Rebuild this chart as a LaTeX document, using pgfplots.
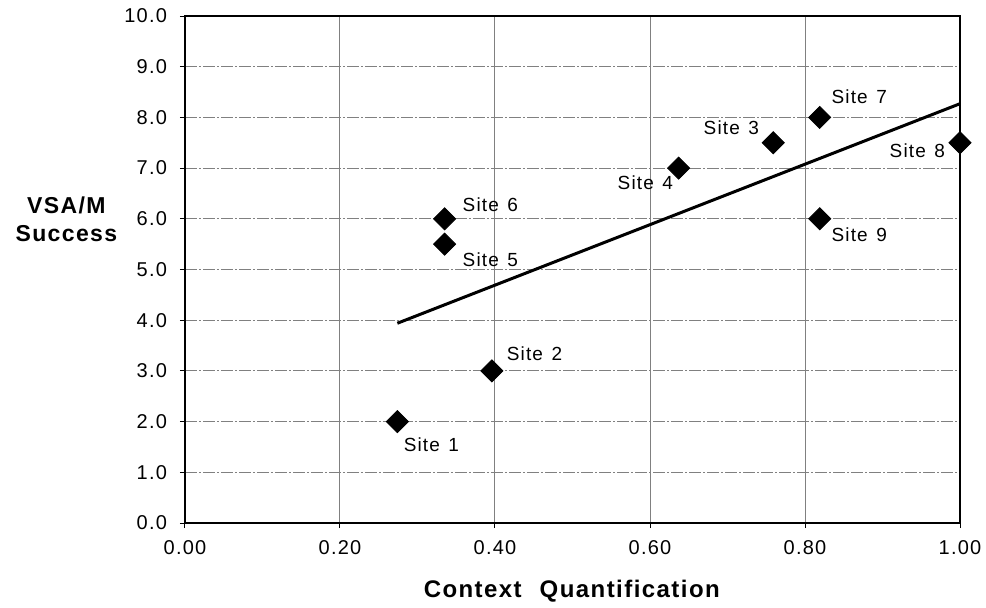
\documentclass[border=0pt]{standalone}
\usepackage{fontspec}
\setmainfont{Liberation Sans}[LetterSpace=6]
\usepackage{pgfplots}
\pgfplotsset{compat=1.18}

\pgfplotstableread{
x     y
0.274 2.0
0.396 3.0
0.759 7.5
0.637 7.0
0.335 5.5
0.335 6.0
0.819 8.0
1.000 7.5
0.819 6.0
}\sites

\newcommand{\site}[1]{Site\hspace{0.45em}#1}

\begin{document}
\begin{tikzpicture}[x=1pt,y=1pt]
% 1px = 0.5pt; picture is 986x607 px
\path[use as bounding box] (-92.5,-42) rectangle (400.5,261.5);
\begin{axis}[
    at={(0,0)}, anchor=south west,
    scale only axis,
    width=387.5pt, height=253.5pt,
    xmin=0, xmax=1, ymin=0, ymax=10,
    xtick={0,0.2,...,1.0},
    ytick={0,1,...,10},
    xticklabel={\pgfmathprintnumber[fixed,fixed zerofill,precision=2]{\tick}},
    yticklabel={\pgfmathprintnumber[fixed,fixed zerofill,precision=1]{\tick}},
    /pgf/number format/assume math mode=true,
    tick label style={font=\fontsize{10}{11}\selectfont},
    xticklabel style={yshift=-2.5pt},
    yticklabel style={xshift=-3pt},
    tick align=outside,
    major tick length=2.5pt,
    tick style={black, line width=0.5pt},
    xtick pos=bottom, ytick pos=left,
    grid=major,
    x grid style={black!50, line width=0.5pt},
    y grid style={black!50, line width=0.5pt, dash pattern=on 6pt off 1pt on 1pt off 1pt},
    axis line style={black, line width=0.8pt},
    xlabel={\textbf{Context\hspace{0.75em}Quantification}},
    xlabel style={font=\fontsize{12}{14}\selectfont, at={(rel axis cs:0.5,0)}, anchor=center, yshift=-34pt},
    clip=false,
]
\addplot[line width=1.5pt, black] coordinates {(0.274,3.94) (1.0,8.27)};
\addplot[only marks, mark=square*, mark size=3.9pt,
         mark options={rotate=45, fill=black, draw=black}] table[x=x,y=y] {\sites};

\node[font=\fontsize{11.5}{13}\selectfont\bfseries, align=center]
    at (rel axis cs:-0.153,0.6) {VSA/M\\[1pt]Success};

\begin{scope}[every node/.style={font=\fontsize{9.5}{11}\selectfont}]
\node at (axis cs:0.318,1.54) {\site{1}};
\node at (axis cs:0.451,3.33) {\site{2}};
\node at (axis cs:0.705,7.79) {\site{3}};
\node at (axis cs:0.594,6.71) {\site{4}};
\node at (axis cs:0.394,5.19) {\site{5}};
\node at (axis cs:0.394,6.27) {\site{6}};
\node at (axis cs:0.870,8.40) {\site{7}};
\node at (axis cs:0.945,7.34) {\site{8}};
\node at (axis cs:0.870,5.68) {\site{9}};
\end{scope}
\end{axis}
\end{tikzpicture}
\end{document}
